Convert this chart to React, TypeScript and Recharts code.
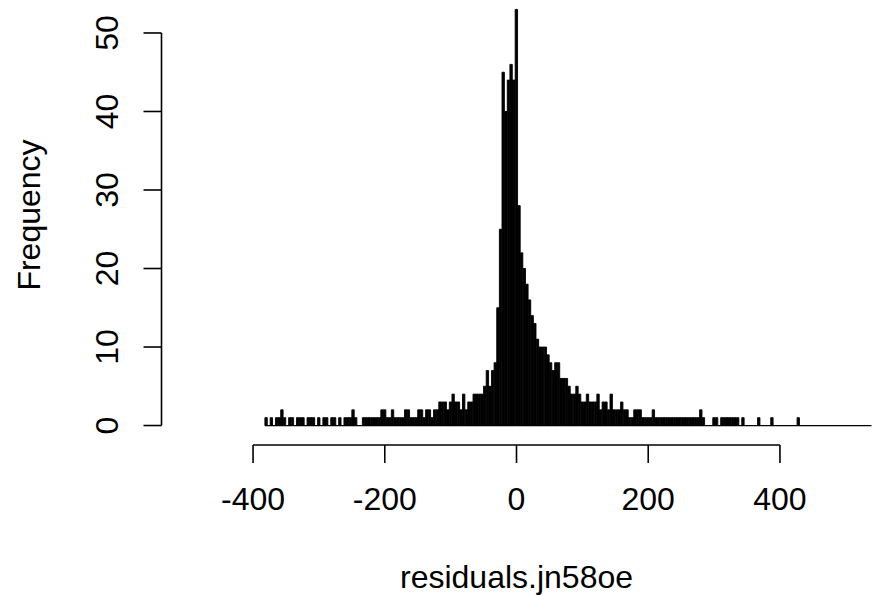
import React from 'react';
import { ComposedChart, Bar, XAxis, YAxis, ReferenceLine, Label } from 'recharts';

// Histogram bins: left edge of first bin and bin width (in residual units)
const BIN_START = -382;
const BIN_WIDTH = 4;

// Frequency per bin (bins from -382 upward, width 4)
const counts: number[] = [
  1, 0, 1, 0, 1, 1, 2, 1, 0, 1, 1, 0, 1, 1,
  1, 0, 1, 1, 1, 0, 1, 0, 1, 1, 0, 1, 1, 0, 1, 0, 1, 1, 1, 2, 1, 0, 0,
  1, 1, 1, 1, 1, 1, 1, 2, 2, 1, 1, 2, 1, 1, 1, 1, 2, 2, 1, 1, 1, 2, 2, 1, 2, 2, 1, 2, 2,
  3, 3, 3, 2, 3, 4, 3, 3, 2, 4, 2, 3, 3, 4, 4, 4, 4, 5, 7, 5, 7, 8,
  15, 25, 45, 40, 44, 46, 44, 53, 28, 22, 20, 18, 16, 14, 13, 11, 10, 10, 10, 9, 8, 7, 8, 8,
  6, 6, 6, 5, 4, 4, 5, 4, 3, 3, 4, 3, 3, 3, 4, 2, 3, 3, 2, 4, 2, 2, 2, 3, 2, 2,
  1, 1, 2, 2, 2, 1, 1, 1, 1, 2,
  1, 1, 1, 1, 1, 1, 1, 1, 1, 1, 1, 1, 1, 1, 1, 1, 1,
  2, 1, 0, 0, 0, 1, 1, 0, 1, 1, 1, 1, 1, 1, 1, 0, 1,
  0, 0, 0, 0, 0, 1, 0, 0, 0, 0, 1, 0, 0, 0, 0, 0, 0, 0, 0, 0, 1,
];

const xTicks = [-400, -200, 0, 200, 400];
const yTicks = [0, 10, 20, 30, 40, 50];
const X_DOMAIN: [number, number] = [-539, 539];
const Y_DOMAIN: [number, number] = [-2.48, 54.2];
const X_AXIS_RANGE: [number, number] = [-400, 400];
const Y_AXIS_RANGE: [number, number] = [0, 50];
const X_LABEL = 'residuals.jn58oe';
const Y_LABEL = 'Frequency';

const data = counts.map((c, i) => ({ mid: BIN_START + BIN_WIDTH * (i + 0.5), count: c }));

const FONT = "'Liberation Sans', Arial, sans-serif";
const FS = 32;

const YTick = (props: any) => {
  const { x, y, payload } = props;
  return (
    <text
      x={x}
      y={y}
      transform={`rotate(-90, ${x}, ${y})`}
      textAnchor="middle"
      fill="#000"
      fontSize={FS}
      fontFamily={FONT}
    >
      {payload.value}
    </text>
  );
};

const YLabel = (props: any) => {
  const vb = props.viewBox || { x: 0, y: 0, width: 0, height: 0 };
  const x = vb.x + 40;
  const y = vb.y + vb.height / 2 - 7.5;
  return (
    <text
      x={x}
      y={y}
      transform={`rotate(-90, ${x}, ${y})`}
      textAnchor="middle"
      fill="#000"
      fontSize={FS}
      fontFamily={FONT}
    >
      {Y_LABEL}
    </text>
  );
};

export default function App() {
  return (
    <div style={{ position: 'absolute', left: 0, top: 0, background: '#fff' }}>
      <ComposedChart
        width={873}
        height={596}
        data={data}
        margin={{ top: 0, right: 1.5, bottom: 0, left: 0 }}
        barCategoryGap={0}
        barGap={0}
      >
        <XAxis
          dataKey="mid"
          type="number"
          domain={X_DOMAIN}
          ticks={xTicks}
          allowDataOverflow
          interval={0}
          axisLine={false}
          tickLine={{ stroke: '#000', strokeWidth: 1.6 }}
          tickSize={18}
          tickMargin={24}
          height={151}
          tick={{ fill: '#000', fontSize: FS, fontFamily: FONT }}
        >
          <Label
            value={X_LABEL}
            position="insideBottom"
            offset={8}
            style={{ fill: '#000', fontSize: FS, fontFamily: FONT }}
          />
        </XAxis>
        <YAxis
          type="number"
          domain={Y_DOMAIN}
          ticks={yTicks}
          allowDataOverflow
          interval={0}
          axisLine={false}
          tickLine={{ stroke: '#000', strokeWidth: 1.6 }}
          tickSize={18}
          tickMargin={25.5}
          width={161.5}
          tick={<YTick />}
        >
          <Label content={<YLabel />} />
        </YAxis>
        <Bar
          dataKey="count"
          fill="#000"
          stroke="#000"
          strokeWidth={0.9}
          barSize={2.7}
          isAnimationActive={false}
        />
        <ReferenceLine
          segment={[{ x: BIN_START, y: 0 }, { x: X_DOMAIN[1], y: 0 }]}
          stroke="#000"
          strokeWidth={1.3}
          ifOverflow="visible"
        />
        <ReferenceLine
          segment={[{ x: X_AXIS_RANGE[0], y: Y_DOMAIN[0] }, { x: X_AXIS_RANGE[1], y: Y_DOMAIN[0] }]}
          stroke="#000"
          strokeWidth={1.6}
          ifOverflow="visible"
        />
        <ReferenceLine
          segment={[{ x: X_DOMAIN[0], y: Y_AXIS_RANGE[0] }, { x: X_DOMAIN[0], y: Y_AXIS_RANGE[1] }]}
          stroke="#000"
          strokeWidth={1.6}
          ifOverflow="visible"
        />
      </ComposedChart>
    </div>
  );
}
